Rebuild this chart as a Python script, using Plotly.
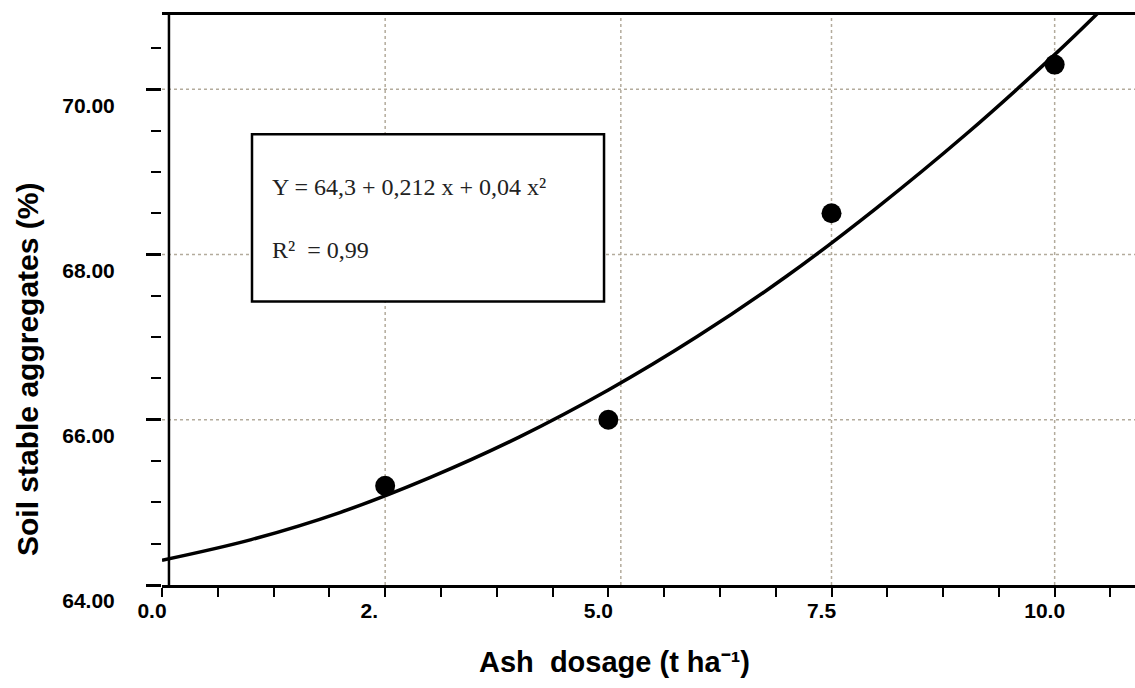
import plotly.graph_objects as go

# ---- data ----
dose = [2.5, 5.0, 7.5, 10.0]
aggregates = [65.2, 66.0, 68.5, 70.3]

fit_dose = [0.0, 1.0, 2.0, 3.0, 4.0, 5.0, 6.0, 7.0, 8.0, 9.0, 10.0, 10.5]
fit_aggregates = [64.30, 64.55, 64.88, 65.30, 65.79, 66.36, 67.01, 67.74, 68.56, 69.45, 70.42, 70.94]

x_tick_values = [0.0, 0.625, 1.25, 1.875, 2.5, 3.125, 3.75, 4.375, 5.0,
                 5.625, 6.25, 6.875, 7.5, 8.125, 8.75, 9.375, 10.0, 10.625]
x_tick_labels = ["0.0", "", "", "", "2.\u00a0\u00a0", "", "", "", "5.0",
                 "", "", "", "7.5", "", "", "", "10.0", ""]
y_tick_values = [64, 66, 68, 70]
y_tick_labels = ["64.00", "66.00", "68.00", "70.00"]

equation_text = "Y = 64,3 + 0,212 x + 0,04 x²"
r2_text = "R²  = 0,99"
x_title = "Ash  dosage (t ha⁻¹)"
y_title = "Soil stable aggregates (%)"

W, H = 1135, 688
ML, MR, MT, MB = 162, 0, 15, 103
PW, PH = W - ML - MR, H - MT - MB

fig = go.Figure()
fig.add_trace(go.Scatter(
    x=fit_dose, y=fit_aggregates, mode="lines",
    line=dict(color="black", width=3.5, shape="spline"),
    showlegend=False, hoverinfo="skip"))
fig.add_trace(go.Scatter(
    x=dose, y=aggregates, mode="markers",
    marker=dict(color="black", size=20),
    showlegend=False))

grid = dict(color="#b3ab9c", width=1.5, dash="dot")
shapes = []
for yv in [66, 68, 70]:
    shapes.append(dict(type="line", xref="paper", yref="y", x0=0, x1=1, y0=yv, y1=yv,
                       line=grid, layer="below"))
for xv in [2.5, 5.14, 7.5, 10.0]:
    shapes.append(dict(type="line", xref="x", yref="paper", x0=xv, x1=xv, y0=0, y1=1,
                       line=grid, layer="below"))
# y axis line (drawn slightly right of x = 0, as in the original)
shapes.append(dict(type="line", xref="x", yref="paper", x0=0.078, x1=0.078, y0=0, y1=1,
                   line=dict(color="black", width=2.5), layer="above"))
# equation box
shapes.append(dict(type="rect", xref="paper", yref="paper",
                   x0=0.0925, x1=0.4543, y0=0.4975, y1=0.7906,
                   fillcolor="white", line=dict(color="black", width=2.5), layer="above"))

annotations = [
    dict(text=equation_text, xref="paper", yref="paper", x=(270 - ML) / PW, y=((H - MB) - 187) / PH,
         xanchor="left", yanchor="middle", showarrow=False,
         font=dict(family="Liberation Serif", size=24, color="#222222")),
    dict(text=r2_text, xref="paper", yref="paper", x=(270 - ML) / PW, y=((H - MB) - 250) / PH,
         xanchor="left", yanchor="middle", showarrow=False,
         font=dict(family="Liberation Serif", size=24, color="#222222")),
    dict(text="<b>" + x_title + "</b>", xref="paper", yref="paper",
         x=(614 - ML) / PW, y=-(662 - (H - MB)) / PH,
         xanchor="center", yanchor="middle", showarrow=False,
         font=dict(family="Liberation Sans", size=29, color="black")),
    dict(text="<b>" + y_title + "</b>", xref="paper", yref="paper",
         x=-(ML - 28) / PW, y=((H - MB) - 370) / PH,
         xanchor="center", yanchor="middle", showarrow=False, textangle=-90,
         font=dict(family="Liberation Sans", size=30, color="black")),
]

fig.update_layout(
    width=W, height=H,
    margin=dict(l=ML, r=MR, t=MT, b=MB, pad=0),
    plot_bgcolor="white", paper_bgcolor="white",
    shapes=shapes, annotations=annotations,
    xaxis=dict(range=[0, 10.9], showgrid=False, zeroline=False,
               showline=True, linecolor="black", linewidth=2.5, mirror=True,
               tickmode="array", tickvals=x_tick_values, ticktext=x_tick_labels,
               ticks="outside", ticklen=9, tickwidth=2, tickcolor="black",
               ticklabelshift=-10, ticklabelstandoff=-4,
               tickfont=dict(family="Liberation Sans", size=21, color="black", weight="bold")),
    yaxis=dict(range=[64, 70.9], showgrid=False, zeroline=False, showline=False,
               tickmode="array", tickvals=y_tick_values, ticktext=y_tick_labels,
               ticks="outside", ticklen=15, tickwidth=2.5, tickcolor="black",
               ticklabelshift=16, ticklabelstandoff=27,
               minor=dict(tickmode="linear", tick0=64, dtick=0.5, ticks="outside",
                          ticklen=10, tickwidth=2, tickcolor="black", showgrid=False),
               tickfont=dict(family="Liberation Sans", size=21, color="black", weight="bold")),
)

fig.write_html("out.html", config={"displayModeBar": False},
               post_script="document.body.style.margin='0px';")
